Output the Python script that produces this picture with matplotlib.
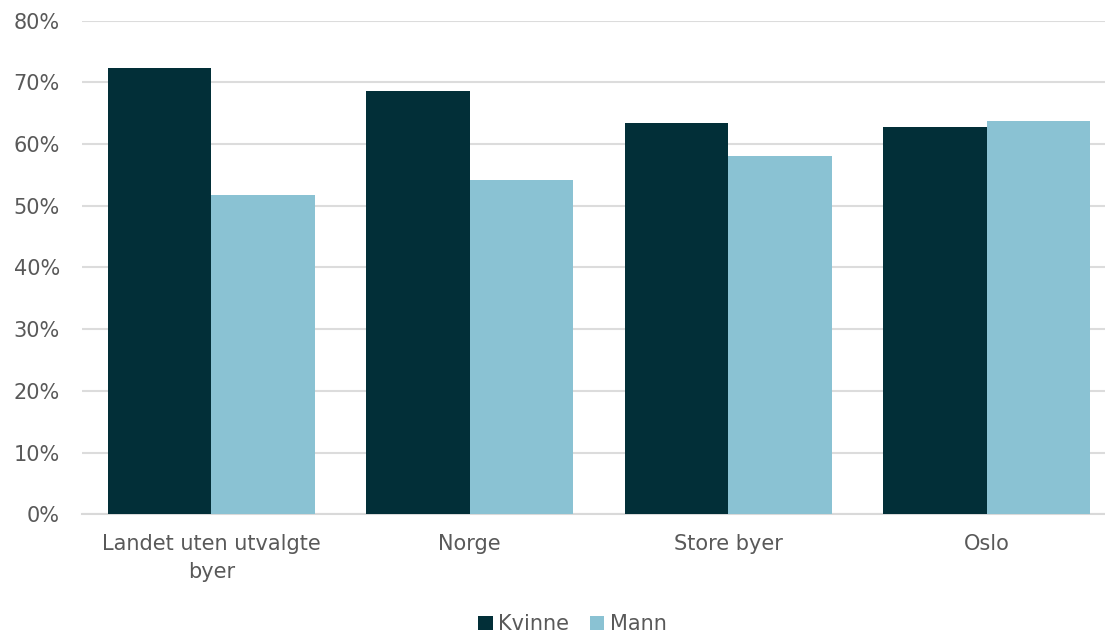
import numpy as np
import matplotlib.pyplot as plt

categories = ["Landet uten utvalgte\nbyer", "Norge", "Store byer", "Oslo"]
kvinne = [72.3, 68.6, 63.5, 62.7]
mann = [51.8, 54.2, 58.0, 63.8]
yticks = [0, 10, 20, 30, 40, 50, 60, 70, 80]

darkColor = '#022f38'
lightColor = '#8ac2d3'
textColor = '#595959'

plt.rcParams['font.family'] = ['DejaVu Sans']

fig = plt.figure(figsize=(11.05, 6.34), dpi=100)
ax = fig.add_axes([82/1105, 1 - 514.3/634, 1 - 82/1105, (514.3 - 20.7)/634])

x = np.arange(len(categories))
w = 0.4
ax.bar(x - w/2, kvinne, width=w, color=darkColor, label='Kvinne', zorder=3)
ax.bar(x + w/2, mann, width=w, color=lightColor, label='Mann', zorder=3)

ax.set_xlim(-0.5, 3.458)
ax.set_ylim(0, 80)
ax.set_yticks(yticks)
ax.set_yticklabels([f'{t}%' for t in yticks])
ax.set_xticks(x)
ax.set_xticklabels(categories, linespacing=1.5)
ax.tick_params(axis='both', length=0, labelsize=15, colors=textColor)
ax.tick_params(axis='x', pad=14)
ax.tick_params(axis='y', pad=16)

ax.grid(axis='y', color='#dcdcdc', linewidth=1.5, zorder=0)
for s in ['top', 'right', 'left']:
    ax.spines[s].set_visible(False)
ax.spines['bottom'].set_color('#d9d9d9')
ax.spines['bottom'].set_linewidth(1.5)

fig.legend(loc='lower center', bbox_to_anchor=(0.518, -0.03), ncol=2, frameon=False,
           fontsize=15, labelcolor=textColor, handlelength=0.7, handleheight=0.7,
           handletextpad=0.25, columnspacing=1.0)

plt.savefig('out.png', dpi=100)
